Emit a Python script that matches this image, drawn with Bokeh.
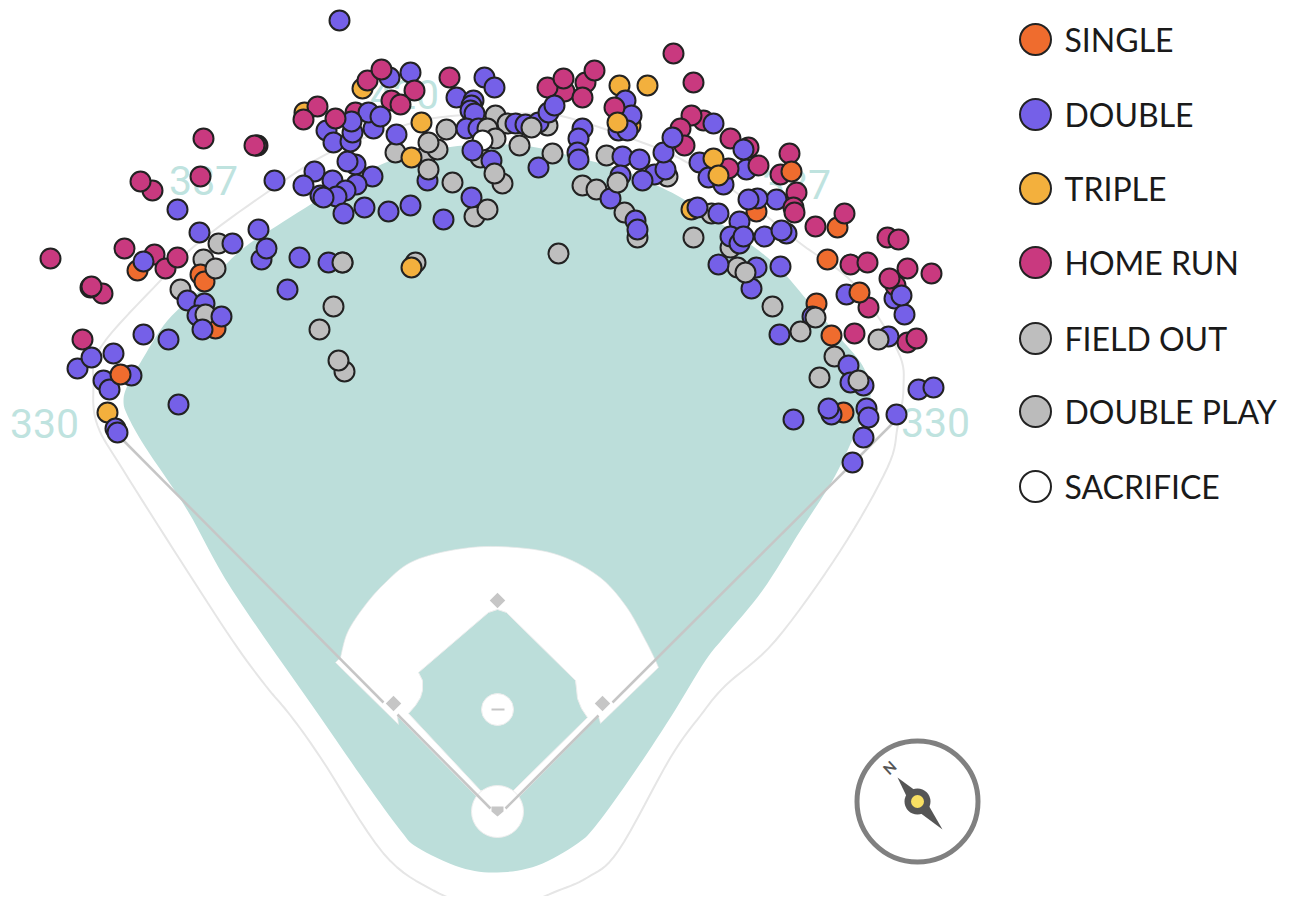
from bokeh.plotting import figure
from bokeh.models import Range1d
from bokeh.core.properties import value
from bokeh.embed import file_html
from bokeh.resources import INLINE

# --- batted-ball locations, grouped by outcome (drawn back to front) ---
out_x = [344,338,319,333,218,203,180,415,395,424,437,495,507,547,480,667,637,730,711,737,428,502,452,474,487,519,552,606,582,596,624,558,693,772,834,819]
out_y = [371,360,329,306,243,259,289,262,152,157,149,115,123,125,157,176,237,247,213,267,142,183,182,216,209,145,153,155,185,189,212,253,237,306,356,377]
dp_x = [446,342]
dp_y = [129,262]
sac_x = [482]
sac_y = [140]
triple_x = [107,362,304,421,411,411,619,647,630,691]
triple_y = [412,88,112,122,157,267,85,85,125,209]
single_x = [137,200,204,215,756,837,827,816,831,843]
single_y = [270,274,281,328,211,227,259,303,335,412]
double_x = [339,389,410,484,494,456,473,471,470,474,466,478,515,525,538,538,491,471,443,396,427,355,347,314,303,332,372,356,345,336,320,323,343,364,388,410,326,333,350,352,373,582,578,577,578,622,639,654,665,642,620,610,635,637,625,631,618,627,299,328,177,274,199,232,258,261,266,287,187,204,197,143,168,113,77,131,103,109,178,115,117,257,697,718,739,730,739,743,764,786,781,776,757,748,718,756,780,751,699,708,723,746,846,894,904,888,779,848,850,863,918,933,896,866,868,831,828,793,863,852,812]
double_y = [20,77,72,77,87,97,100,105,110,113,128,128,123,124,122,167,160,197,219,134,180,164,161,171,185,180,176,184,190,196,195,197,213,207,211,205,130,142,141,132,128,128,138,152,159,156,159,174,169,180,175,198,220,229,100,115,130,130,257,262,209,180,232,243,229,259,248,289,300,303,315,334,339,353,368,375,380,389,404,428,432,145,207,213,221,236,243,236,236,233,230,199,198,199,264,267,266,288,162,177,184,169,294,298,314,336,334,365,382,385,389,387,414,408,417,414,408,419,437,462,316]
hr_x = [203,256,254,200,152,140,124,50,154,165,177,102,90,91,82,367,381,414,391,400,449,564,547,563,585,594,582,614,673,693,703,691,680,684,730,748,758,728,789,780,796,793,794,815,844,887,898,850,867,895,889,907,931,868,854,907,916,355,317,303]
hr_y = [138,145,145,176,190,181,248,258,254,268,257,293,287,286,339,80,69,90,100,104,77,91,87,78,82,70,97,107,53,82,120,115,128,145,138,147,165,168,153,174,192,207,212,226,213,237,239,264,262,285,278,268,273,307,333,342,338,112,106,119]
top_out_x = [342,215,205,531,428,858,878,745,815,800,617,487,495,494]
top_out_y = [262,268,314,127,169,380,339,272,317,331,182,128,138,173]
top_triple_x = [617,713,718]
top_triple_y = [122,158,175]
top_single_x = [120,791,859]
top_single_y = [374,171,292]
top_double_x = [472,143,548,554,663,672,713,743,368,380,351,221,202,91,901]
top_double_y = [150,261,112,105,152,137,123,149,112,116,121,316,329,357,295]
top_hr_x = [335]
top_hr_y = [118]

legend_labels = ["SINGLE", "DOUBLE", "TRIPLE", "HOME RUN", "FIELD OUT", "DOUBLE PLAY", "SACRIFICE"]
legend_colors = ["#ef6c2e", "#7560e8", "#f3b03d", "#c9397f", "#bebebe", "#bbbbbb", "#ffffff"]
legend_y = [39, 114, 188, 262, 338, 411, 486]
distance_labels = ["330", "387", "420", "387", "330"]
distance_x = [44, 203, 404, 796, 935]
distance_y = [423, 180, 94, 184, 422]

# --- ballpark outline control points (decoration) ---
grass = [(123,400),(127,385),(140,362),(167,320),(205,285),(240,250),(277,225),(333,190),(383,163),(423,152),(463,145),(523,145),(577,157),(623,170),(650,182),(690,203),(767,257),(807,300),(840,338),(862,365),(870,390),(866,410),(853,437),(832,480),(800,530),(762,590),(725,635),(705,660),(670,717),(633,773),(597,823),(577,843),(537,865),(497,872),(460,867),(417,847),(400,830),(365,782),(320,717),(232,590),(187,510),(145,447),(127,415)]
wall = [(475,906),(433,890),(383,853),(320,757),(290,715),(265,685),(232,640),(180,560),(123,470),(97,425),(93,387),(100,347),(160,280),(197,243),(265,193),(333,150),(410,123),(457,115),(523,113),(567,117),(650,145),(683,160),(733,190),(800,243),(853,283),(897,350),(903,387),(897,427),(887,467),(840,550),(775,640),(725,685),(700,715),(670,757),(618,850),(587,877),(553,892),(520,906)]
dirt_arc = [(340,657),(347,632),(363,607),(383,584),(410,562),(450,550),(497,546),(553,553),(597,575),(625,605),(645,640),(655,660)]
dirt_tail = [(658,667),(600,723),(598,716),(505,810),(497,822),(490,810),(397,716),(398,724),(335,662)]
infield_x = [497,506,575,576,577,581,587,513,480,408,415,420,422,422,418,488]
infield_y = [609,612,680,688,698,708,717,790,790,713,705,697,690,680,672,612]


def smooth(pts, closed=False, steps=8):
    n = len(pts)
    out = []
    last = n if closed else n - 1
    for i in range(last):
        if closed:
            p0, p1, p2, p3 = pts[(i-1) % n], pts[i], pts[(i+1) % n], pts[(i+2) % n]
        else:
            p0, p1, p2, p3 = pts[max(i-1, 0)], pts[i], pts[i+1], pts[min(i+2, n-1)]
        for k in range(steps):
            t = k / steps
            out.append(tuple(0.5 * ((2*p1[a]) + (p2[a]-p0[a])*t + (2*p0[a]-5*p1[a]+4*p2[a]-p3[a])*t*t + (3*p1[a]-p0[a]-3*p2[a]+p3[a])*t*t*t) for a in (0, 1)))
    if not closed:
        out.append(pts[-1])
    return [q[0] for q in out], [q[1] for q in out]


p = figure(width=1285, height=896, x_range=Range1d(0, 1285), y_range=Range1d(896, 0),
           output_backend="svg", toolbar_location=None, min_border=0)
p.axis.visible = False
p.grid.visible = False
p.outline_line_color = None

GRASS = "#bcdeda"
LINE = "#c6c6c6"

wx, wy = smooth(wall)
p.line(wx, wy, line_color="#e6e6e6", line_width=2)

gx, gy = smooth(grass, closed=True)
p.patch(gx, gy, fill_color=GRASS, line_color=None)

dx, dy = smooth(dirt_arc)
p.patch(dx + [q[0] for q in dirt_tail], dy + [q[1] for q in dirt_tail], fill_color="#ffffff", line_color="#e8e8e8", line_width=0.7)
p.patch(infield_x, infield_y, fill_color=GRASS, line_color="#eeeeee", line_width=1)
p.scatter([497], [811], size=52, marker="circle", fill_color="#ffffff", line_color="#eeeeee", line_width=1)
p.scatter([497], [709], size=32, marker="circle", fill_color="#ffffff", line_color="#eeeeee", line_width=1)
p.line([491, 504], [709, 709], line_color=LINE, line_width=2)

# foul lines
p.line([490, 397], [808, 714], line_color=LINE, line_width=2.5)
p.line([383, 115], [702, 432], line_color=LINE, line_width=2.5)
p.line([505, 598], [808, 715], line_color=LINE, line_width=2.5)
p.line([612, 893], [702, 422], line_color=LINE, line_width=2.5)

# bases
p.scatter([497, 602, 393], [600, 703, 703], size=11, marker="square", angle=0.785, fill_color=LINE, line_color=None)
p.patch([491, 503, 503, 497, 491], [806, 806, 811, 816, 811], fill_color=LINE, line_color=None)

p.text(distance_x, distance_y, text=distance_labels, text_font=value("Roboto"),
       text_font_size="41px", text_color="#bfe3df", text_align="center", text_baseline="middle")


def dots(x, y, color):
    p.scatter(x, y, size=20, marker="circle", fill_color=color, line_color="#222222", line_width=2)


dots(out_x, out_y, legend_colors[4])
dots(dp_x, dp_y, legend_colors[5])
dots(triple_x, triple_y, legend_colors[2])
dots(single_x, single_y, legend_colors[0])
dots(double_x, double_y, legend_colors[1])
dots(hr_x, hr_y, legend_colors[3])
dots(top_out_x, top_out_y, legend_colors[4])
dots(sac_x, sac_y, legend_colors[6])
dots(top_triple_x, top_triple_y, legend_colors[2])
dots(top_single_x, top_single_y, legend_colors[0])
dots(top_double_x, top_double_y, legend_colors[1])
dots(top_hr_x, top_hr_y, legend_colors[3])

# legend
p.scatter([1035] * 7, legend_y, size=31, marker="circle", fill_color=legend_colors,
          line_color="#222222", line_width=2)
p.text([1064] * 7, legend_y, text=legend_labels, text_font=value("Lato"), text_font_size="32px",
       text_color="#1a1a1a", text_align="left", text_baseline="middle")

# compass
p.scatter([917], [801], size=121, marker="circle", fill_color="#ffffff", line_color="#808080", line_width=5)
p.patch([897, 923, 942, 911], [777, 796, 829, 806], fill_color="#555555", line_color=None)
p.scatter([917], [801], size=26, marker="circle", fill_color="#555555", line_color=None)
p.scatter([917], [801], size=13, marker="circle", fill_color="#f9e063", line_color=None)
p.text([889], [767], text=["N"], angle=0.75, text_font=value("Lato"), text_font_size="15px", text_font_style="bold",
       text_color="#555555", text_align="center", text_baseline="middle")

open("out.html", "w").write(file_html(p, INLINE))
